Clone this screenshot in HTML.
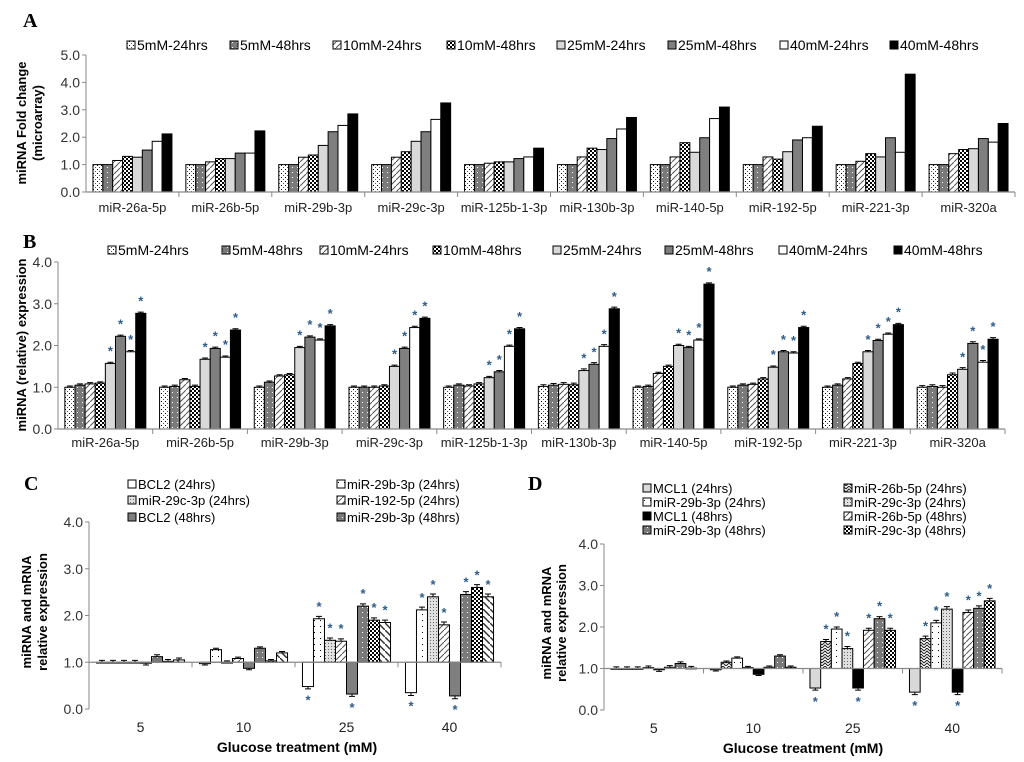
<!DOCTYPE html>
<html><head><meta charset="utf-8"><style>
html,body{margin:0;padding:0;background:#fff;}
svg{display:block;font-family:"Liberation Sans",Arial,sans-serif;}
</style></head><body>
<svg id="fig" width="1024" height="762" viewBox="0 0 1024 762" xmlns="http://www.w3.org/2000/svg">
<defs>
<pattern id="pDots" width="4" height="4" patternUnits="userSpaceOnUse"><rect width="4" height="4" fill="#fff"/><rect x="1" y="1" width="1" height="1" fill="#000"/><rect x="3" y="3" width="1" height="1" fill="#555"/></pattern>
<pattern id="pGreyDots" width="5" height="5" patternUnits="userSpaceOnUse"><rect width="5" height="5" fill="#7a7a7a"/><rect x="2" y="2" width="1" height="1" fill="#fff"/></pattern>
<pattern id="pDiag" width="6" height="6" patternUnits="userSpaceOnUse"><rect width="6" height="6" fill="#fff"/><path d="M0,6 L6,0" stroke="#555" stroke-width="1"/></pattern>
<pattern id="pChecker" width="4" height="4" patternUnits="userSpaceOnUse"><rect width="4" height="4" fill="#fff"/><rect width="2" height="2" fill="#000"/><rect x="2" y="2" width="2" height="2" fill="#000"/></pattern>
<pattern id="pWDots" width="6" height="6" patternUnits="userSpaceOnUse"><rect width="6" height="6" fill="#fff"/><rect x="2" y="2" width="1" height="1" fill="#000"/></pattern>
<pattern id="pFine" width="3" height="3" patternUnits="userSpaceOnUse"><rect width="3" height="3" fill="#e0e0e0"/><rect x="1" y="1" width="1" height="1" fill="#666"/></pattern>
<pattern id="pDiagThick" width="7" height="7" patternUnits="userSpaceOnUse"><rect width="7" height="7" fill="#fff"/><path d="M0,0 L7,7" stroke="#333" stroke-width="1.5"/></pattern>
<pattern id="pZig" width="6" height="6" patternUnits="userSpaceOnUse"><rect width="6" height="6" fill="#fff"/><path d="M0,3 L3,0 L6,3 M0,6 L3,3 L6,6" stroke="#222" fill="none" stroke-width="1"/></pattern>
</defs>
<g id="root"></g>
</svg>
<script>
// ---------- Panel A data ----------
const catsA = ["miR-26a-5p","miR-26b-5p","miR-29b-3p","miR-29c-3p","miR-125b-1-3p","miR-130b-3p","miR-140-5p","miR-192-5p","miR-221-3p","miR-320a"];
const seriesNamesA = ["5mM-24hrs","5mM-48hrs","10mM-24hrs","10mM-48hrs","25mM-24hrs","25mM-48hrs","40mM-24hrs","40mM-48hrs"];
const a5_24 = [1,1,1,1,1,1,1,1,1,1];
const a5_48 = [1,1,1,1,1,1,1,1,1,1];
const a10_24 = [1.15,1.1,1.27,1.27,1.05,1.28,1.28,1.28,1.12,1.4];
const a10_48 = [1.3,1.22,1.35,1.47,1.1,1.6,1.8,1.2,1.4,1.55];
const a25_24 = [1.27,1.22,1.7,1.85,1.1,1.55,1.45,1.47,1.28,1.58];
const a25_48 = [1.53,1.42,2.2,2.2,1.22,1.95,1.98,1.9,1.98,1.95];
const a40_24 = [1.85,1.42,2.43,2.65,1.28,2.3,2.68,1.98,1.45,1.82];
const a40_48 = [2.12,2.23,2.85,3.25,1.6,2.72,3.1,2.4,4.3,2.5];
const ticksA = ["0.0","1.0","2.0","3.0","4.0","5.0"];
// ---------- Panel B data ----------
const b5_24 = [1.0,1.0,1.0,1.0,1.0,1.02,1.0,1.0,1.0,1.0];
const b5_48 = [1.05,1.02,1.12,1.0,1.05,1.05,1.02,1.05,1.05,1.02];
const b10_24 = [1.08,1.18,1.27,1.0,1.03,1.07,1.33,1.07,1.2,1.0];
const b10_48 = [1.1,1.02,1.3,1.03,1.08,1.06,1.5,1.2,1.57,1.3];
const b25_24 = [1.57,1.67,1.95,1.5,1.23,1.4,2.0,1.48,1.85,1.43];
const b25_48 = [2.22,1.93,2.2,1.93,1.37,1.55,1.95,1.85,2.12,2.05];
const b40_24 = [1.85,1.72,2.13,2.43,1.98,1.98,2.13,1.82,2.27,1.6];
const b40_48 = [2.77,2.37,2.47,2.65,2.4,2.88,3.47,2.43,2.5,2.15];
const ticksB = ["0.0","1.0","2.0","3.0","4.0"];
// ---------- Panel C data ----------
const catsCD = ["5","10","25","40"];
const seriesNamesC = ["BCL2 (24hrs)","miR-29b-3p (24hrs)","miR-29c-3p (24hrs)","miR-192-5p (24hrs)","BCL2 (48hrs)","miR-29b-3p (48hrs)","miR-29c-3p (48hrs)","miR-192-5p (48hrs)"];
const cBcl24 = [1.0,0.97,0.48,0.35];
const c29b24 = [1.0,1.27,1.93,2.12];
const c29c24 = [1.0,1.0,1.47,2.4];
const c192_24 = [1.0,1.08,1.45,1.8];
const cBcl48 = [0.98,0.87,0.32,0.28];
const c29b48 = [1.12,1.3,2.2,2.45];
const c29c48 = [1.02,1.03,1.9,2.6];
const c192_48 = [1.05,1.2,1.85,2.4];
const cErr = [0.04,0.03,0.05,0.06];
const ticksCD = ["0.0","1.0","2.0","3.0","4.0"];
// ---------- Panel D data ----------
const seriesNamesD = ["MCL1 (24hrs)","miR-26b-5p (24hrs)","miR-29b-3p (24hrs)","miR-29c-3p (24hrs)","MCL1 (48hrs)","miR-26b-5p (48hrs)","miR-29b-3p (48hrs)","miR-29c-3p (48hrs)"];
const dMcl24 = [1.0,0.97,0.53,0.43];
const d26b24 = [1.0,1.15,1.65,1.72];
const d29b24 = [1.0,1.25,1.95,2.1];
const d29c24 = [1.02,1.02,1.48,2.43];
const dMcl48 = [0.97,0.86,0.53,0.43];
const d26b48 = [1.03,1.03,1.92,2.35];
const d29b48 = [1.12,1.3,2.2,2.45];
const d29c48 = [1.01,1.03,1.92,2.63];

const NS = "http://www.w3.org/2000/svg";
const root = document.getElementById("root");
function mk(tag, attrs, parent, text){
  const e = document.createElementNS(NS, tag);
  for (const k in attrs) e.setAttribute(k, attrs[k]);
  if (text !== undefined) e.textContent = text;
  (parent||root).appendChild(e);
  return e;
}
const fillsA = ["url(#pDots)","url(#pGreyDots)","url(#pDiag)","url(#pChecker)","#d9d9d9","#7f7f7f","#fff","#000"];
const fillsC = ["#fff","url(#pWDots)","url(#pFine)","url(#pDiag)","#7f7f7f","url(#pGreyDots)","url(#pChecker)","url(#pDiagThick)"];
const fillsD = ["#d9d9d9","url(#pZig)","url(#pWDots)","url(#pFine)","#000","url(#pDiag)","url(#pGreyDots)","url(#pChecker)"];

function panel(o){
  const g = mk("g", {});
  
  
  const yS = v => o.y0 - (v / o.vmax) * (o.y0 - o.ytop);
  const nG = o.cats.length, gw = (o.x1 - o.x0) / nG, bw = gw * o.frac / o.series.length;
  const xS = (gi, si) => o.x0 + gi * gw + (gw - bw * o.series.length) / 2 + si * bw;
  const ax = mk("line", {x1:o.x0, y1:o.ytop, x2:o.x0, y2:o.y0, stroke:"#8a8a8a", "stroke-width":1}, g);
  
  
  o.ticks.forEach((t) => {
    const v = parseFloat(t), y = yS(v);
    mk("line", {x1:o.x0-4, y1:y, x2:o.x0, y2:y, stroke:"#8a8a8a"}, g);
    const tl = mk("text", {x:o.x0-6, y:y+5, "text-anchor":"end", "font-size":14, fill:"#333"}, g, t);
    
    
  });
  const base = o.base || 0;
  const by = yS(base);
  o.series.forEach((arr, si) => {
    arr.forEach((v, gi) => {
      const x = xS(gi, si), y = yS(v);
      const top = Math.min(y, by), h = Math.abs(by - y);
      const r = mk("rect", {x:x, y:top, width:bw, height:Math.max(h,0.8), fill:o.fills[si], stroke:"#000", "stroke-width":1}, g);
      
      
      if (o.err) {
        const e = o.err[gi] * (o.y0 - o.ytop) / o.vmax, cx = x + bw/2;
        const ey = v >= base ? y - e : y + e;
        mk("path", {d:`M${cx},${y}L${cx},${ey}M${cx-3},${ey}L${cx+3},${ey}`, stroke:"#000", "stroke-width":1, fill:"none"}, g);
      }
      if (o.star && o.star(si, gi)) {
        const sy = v >= base ? y - (o.err ? 8 : 5) : y + 18;
        const s = mk("text", {x:x+bw/2, y:sy, "text-anchor":"middle", "font-size":13, "font-weight":"bold", fill:"#2e5c8a"}, g, "*");
        
        
      }
    });
  });
  const xa = mk("line", {x1:o.x0, y1:by, x2:o.x1, y2:by, stroke:"#8a8a8a", "stroke-width":1.2}, g);
  
  
  for (let i = 1; i <= nG; i++) mk("line", {x1:o.x0+i*gw, y1:by, x2:o.x0+i*gw, y2:by+5, stroke:"#8a8a8a"}, g);
  o.cats.forEach((c, i) => {
    const t = mk("text", {x:o.x0+(i+0.5)*gw, y:o.catY, "text-anchor":"middle", "font-size":o.catSize||13, fill:"#222"}, g, c);
    
    
  });
  return g;
}
function legend(items, fills, positions, size){
  items.forEach((n, i) => {
    const [x, y] = positions[i];
    const lg = mk("g", {});
    
    
    mk("rect", {x:x, y:y-9, width:8, height:8, fill:fills[i], stroke:"#000", "stroke-width":1}, lg);
    mk("text", {x:x+10, y:y, "font-size":size, fill:"#000"}, lg, n);
  });
}
function label(txt, x, y, name, attrs){
  const t = mk("text", Object.assign({x:x, y:y}, attrs), root, txt);
  
  
  return t;
}
label("A", 23, 27, "panel-label-a", {"font-family":"Liberation Serif,serif","font-size":20,"font-weight":"bold"});
label("B", 23, 248, "panel-label-b", {"font-family":"Liberation Serif,serif","font-size":20,"font-weight":"bold"});
label("C", 24, 490, "panel-label-c", {"font-family":"Liberation Serif,serif","font-size":20,"font-weight":"bold"});
label("D", 528, 490, "panel-label-d", {"font-family":"Liberation Serif,serif","font-size":20,"font-weight":"bold"});

panel({name:"panel-a-chart", cats:catsA, series:[a5_24,a5_48,a10_24,a10_48,a25_24,a25_48,a40_24,a40_48], fills:fillsA,
  x0:86, x1:1015, y0:192, ytop:55, vmax:5, ticks:ticksA, frac:0.85, catY:212});
legend(seriesNamesA, fillsA, [[127,50],[230,50],[333,50],[447,50],[557,50],[668,50],[780,50],[890,50]], 14);
label("miRNA Fold change", 26, 123, "y-axis-title-a", {"font-size":13,"font-weight":"bold","text-anchor":"middle",transform:"rotate(-90 26 123)"});
label("(microarray)", 42, 123, "y-axis-title-a2", {"font-size":13,"font-weight":"bold","text-anchor":"middle",transform:"rotate(-90 42 123)"});

panel({name:"panel-b-chart", cats:catsA, series:[b5_24,b5_48,b10_24,b10_48,b25_24,b25_48,b40_24,b40_48], fills:fillsA,
  x0:58, x1:1005, y0:429, ytop:262, vmax:4, ticks:ticksB, frac:0.855, catY:447, err:[0.03,0.03,0.03,0.03,0.03,0.04,0.03,0.03,0.03,0.04],
  star:(si)=>si>=4});
legend(seriesNamesA, fillsA, [[108,255],[222,255],[320,255],[433,255],[553,255],[665,255],[779,255],[894,255]], 14);
label("miRNA (relative) expression", 26, 345, "y-axis-title-b", {"font-size":13,"font-weight":"bold","text-anchor":"middle",transform:"rotate(-90 26 345)"});

panel({name:"panel-c-chart", cats:catsCD, series:[cBcl24,c29b24,c29c24,c192_24,cBcl48,c29b48,c29c48,c192_48], fills:fillsC,
  x0:89, x1:501, y0:709, ytop:522, vmax:4, base:1, ticks:ticksCD, frac:0.855, catY:732, catSize:14, err:cErr,
  star:(si,gi)=>gi>=2});
legend(seriesNamesC.slice(0,6), fillsC.slice(0,6),
  [[128,489],[337,489],[128,505],[337,505],[128,522],[337,522]], 13);
label("Glucose treatment (mM)", 297, 752, "x-axis-title-c", {"font-size":14,"font-weight":"bold","text-anchor":"middle"});
label("miRNA and mRNA", 31, 612, "y-axis-title-c", {"font-size":13,"font-weight":"bold","text-anchor":"middle",transform:"rotate(-90 31 612)"});
label("relative expression", 47, 612, "y-axis-title-c2", {"font-size":13,"font-weight":"bold","text-anchor":"middle",transform:"rotate(-90 47 612)"});

panel({name:"panel-d-chart", cats:catsCD, series:[dMcl24,d26b24,d29b24,d29c24,dMcl48,d26b48,d29b48,d29c48], fills:fillsD,
  x0:604, x1:1002, y0:710, ytop:544, vmax:4, base:1, ticks:ticksCD, frac:0.86, catY:733, catSize:14, err:cErr,
  star:(si,gi)=>gi>=2});
legend(seriesNamesD, fillsD,
  [[643,493],[844,493],[643,507],[844,507],[643,521],[844,521],[643,535],[844,535]], 13);
label("Glucose treatment (mM)", 803, 753, "x-axis-title-d", {"font-size":14,"font-weight":"bold","text-anchor":"middle"});
label("miRNA and mRNA", 551, 623, "y-axis-title-d", {"font-size":13,"font-weight":"bold","text-anchor":"middle",transform:"rotate(-90 551 623)"});
label("relative expression", 566, 623, "y-axis-title-d2", {"font-size":13,"font-weight":"bold","text-anchor":"middle",transform:"rotate(-90 566 623)"});
</script>
</body></html>
